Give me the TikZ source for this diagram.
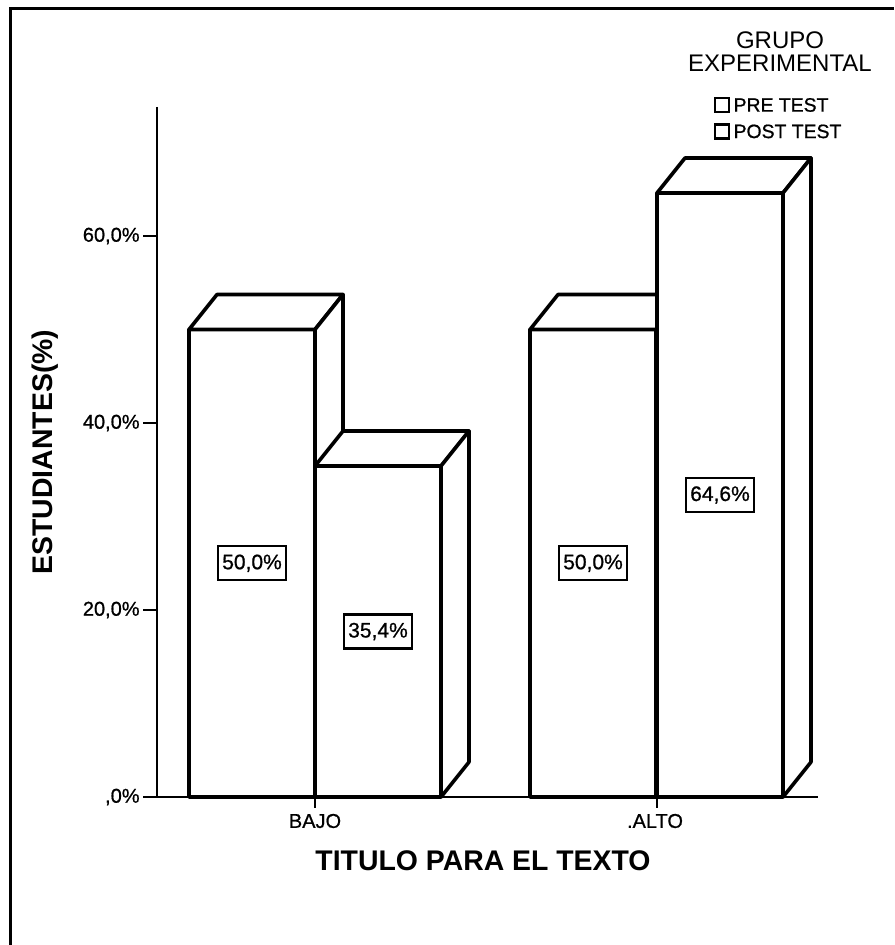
\documentclass[tikz,border=0pt]{standalone}
\usepackage{fontspec}
\setmainfont{Liberation Sans}
\newfontfamily\scanfont{Liberation Sans}[FakeBold=0.8]
\usetikzlibrary{ % tikz packages
    positioning
}
\tikzset{
    barface/.style={draw=black, fill=white, line width=1.8pt, line join=round},
    valuebox/.style={draw=black, fill=white, line width=1.1pt, inner xsep=2pt,
        inner ysep=0pt, minimum height=17pt, font=\scanfont\fontsize{10.5}{12}\selectfont},
    ticklabel/.style={inner sep=0pt, font=\scanfont\fontsize{10}{12}\selectfont},
    catlabel/.style={inner sep=0pt, font=\scanfont\fontsize{10}{12}\selectfont},
    legendbox/.style={draw=black, line width=1.2pt, minimum size=7pt, inner sep=0pt},
    legendtext/.style={inner sep=0pt, font=\scanfont\fontsize{9.7}{12}\selectfont},
    axistitle/.style={inner sep=0pt, font=\bfseries\fontsize{14.2}{16}\selectfont}
}
\newcommand{\studentBar}[4]{%
    \pgfmathsetmacro{\barTop}{797-9.35*#3}
    \draw[barface] (#2,797) rectangle ({#2+126},\barTop);
    \draw[barface] (#2,\barTop) -- ++(28,-35) -- ++(126,0) -- ++(-28,35) -- cycle;
    \draw[barface] ({#2+126},797) -- ++(28,-35) -- ({#2+154},{\barTop-35})
        -- ({#2+126},\barTop) -- cycle;
    \node[valuebox] (#1) at ({#2+63},{(797+\barTop)/2}) {#4};
}

\begin{document}
\begin{tikzpicture}[x=0.5pt,y=-0.5pt]
        \useasboundingbox (0,0) rectangle (894,945);
        \draw[line width=1.5pt] (10,945) -- (10,9) -- (894,9);

        % axes
        \coordinate (yTop) at (157,107);
        \coordinate (y0) at (157,797);
        \coordinate (y20) at (157,610);
        \coordinate (y40) at (157,423);
        \coordinate (y60) at (157,236);
        \coordinate (xEnd) at (818,797);
        \draw[line width=1.1pt] (yTop) -- (y0);
        \draw[line width=0.7pt] (y0) ++(-14,0) -- (xEnd);
        \draw[line width=1.1pt] (y20) -- ++(-14,0);
        \draw[line width=1.1pt] (y40) -- ++(-14,0);
        \draw[line width=1.1pt] (y60) -- ++(-14,0);
        \node[ticklabel, left=8.5pt of y0] (t0) {,0\%};
        \node[ticklabel, left=8.5pt of y20] (t20) {20,0\%};
        \node[ticklabel, left=8.5pt of y40] (t40) {40,0\%};
        \node[ticklabel, left=8.5pt of y60] (t60) {60,0\%};

        % bars
        \studentBar{bajoPre}{189}{50}{50,0\%}
        \studentBar{bajoPost}{315}{35.4}{35,4\%}
        \studentBar{altoPre}{530}{50}{50,0\%}
        \studentBar{altoPost}{657}{64.6}{64,6\%}

        \coordinate (bajo) at (315,797);
        \coordinate (alto) at (657,797);
        \draw[line width=1.1pt] (bajo) -- ++(0,11);
        \draw[line width=1.1pt] (alto) -- ++(0,11);
        \node[catlabel] (bajoLabel) at (315,821) {BAJO};
        \node[catlabel] (altoLabel) at (655,821) {.ALTO};

        \node[axistitle, rotate=90] (yTitle) at (45,452) {ESTUDIANTES(\%)};
        \node[axistitle] (xTitle) at (483,861) {TITULO PARA EL TEXTO};

        % legend
        \node[align=center, inner sep=0pt, font=\fontsize{12}{11.5}\selectfont]
            (legTitle) at (780,52) {GRUPO\\EXPERIMENTAL};
        \node[legendbox] (preBox) at (722,105) {};
        \node[legendtext, right=1.5pt of preBox] (preText) {PRE TEST};
        \node[legendbox, below=5pt of preBox] (postBox) {};
        \node[legendtext, right=1.5pt of postBox] (postText) {POST TEST};
    \end{tikzpicture}
\end{document}
